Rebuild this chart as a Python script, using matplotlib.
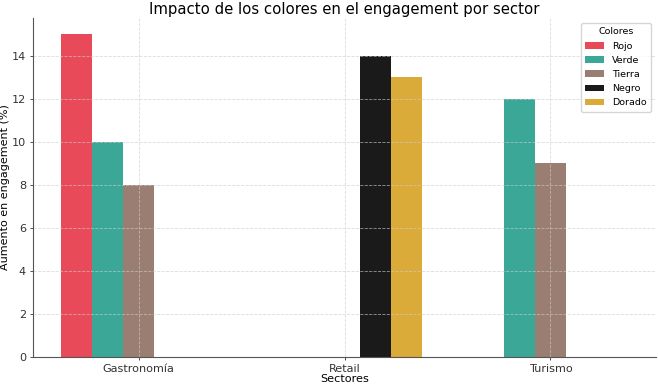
import matplotlib
matplotlib.use("Agg")
import matplotlib.pyplot as plt
import numpy as np

sectores = ["Gastronomía", "Retail", "Turismo"]
colores = ["Rojo", "Verde", "Tierra", "Negro", "Dorado"]
rojo = [15, 0, 0]
verde = [10, 0, 12]
tierra = [8, 0, 9]
negro = [0, 14, 0]
dorado = [0, 13, 0]
paleta = ["#E84A5A", "#3BA797", "#9A7E72", "#1A1A1A", "#DAAB38"]

series = [rojo, verde, tierra, negro, dorado]

fig = plt.figure(figsize=(6.58, 3.85), dpi=100)
ax = fig.add_axes([33/658, 28/385, (656-33)/658, (357-18)/385])

x = np.arange(len(sectores))
w = 0.15
for i, (nombre, vals, c) in enumerate(zip(colores, series, paleta)):
    ax.bar(x + (i - 2) * w, vals, w, label=nombre, color=c)

ax.set_xticks(x)
ax.set_xticklabels(sectores, fontsize=8.1)
ax.tick_params(axis='y', labelsize=8.1, pad=2.5)
ax.tick_params(axis='x', pad=2.5)
ax.set_xlabel("Sectores", fontsize=8.1, labelpad=0.3)
ax.set_ylabel("Aumento en engagement (%)", fontsize=8.0, labelpad=1.2)
ax.set_title("Impacto de los colores en el engagement por sector", fontsize=10.7, pad=3)
ax.grid(True, linestyle="--", color="#cccccc", linewidth=0.6, alpha=0.7)
ax.spines["top"].set_visible(False)
ax.spines["right"].set_visible(False)
for s in ["left", "bottom"]:
    ax.spines[s].set_color("#555555")
ax.tick_params(colors="#333333", length=2.5, width=0.6)
leg = ax.legend(title="Colores", fontsize=6.8, title_fontsize=6.8, loc="upper right",
                handlelength=2.0, borderpad=0.5, labelspacing=0.55)
fig.savefig("out.png", dpi=100)
